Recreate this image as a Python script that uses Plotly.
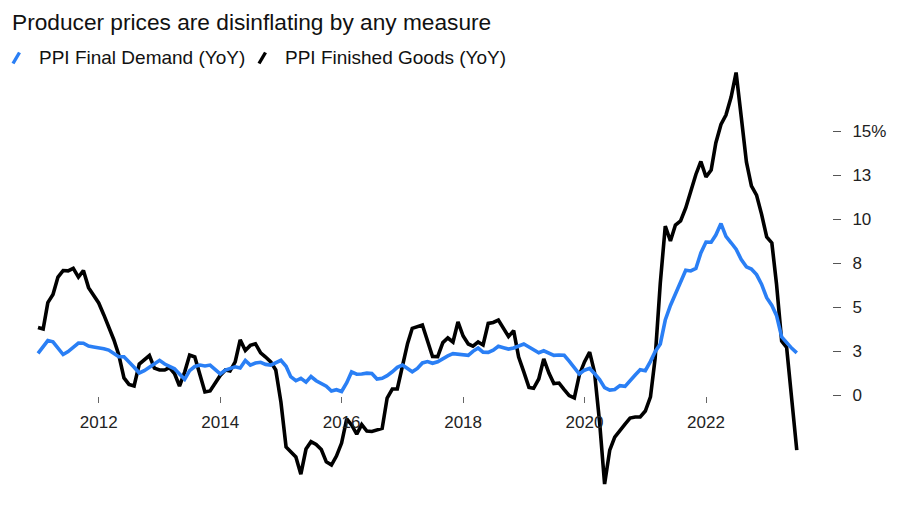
import pandas as pd
import plotly.graph_objects as go

# ---- data (monthly, Jan 2011 .. Jul 2023), YoY %
start_month = "2011-01-01"
n_months = 151

finished_goods = [
    3.84, 3.75, 5.25, 5.71, 6.70, 7.07, 7.05, 7.20, 6.70, 7.07,
    6.10, 5.68, 5.23, 4.55, 3.85, 3.14, 2.27, 0.97, 0.60, 0.51,
    1.76, 1.99, 2.24, 1.53, 1.42, 1.42, 1.56, 1.22, 0.51, 1.30,
    2.27, 2.16, 1.19, 0.17, 0.23, 0.63, 1.11, 1.42, 1.36, 1.88,
    3.13, 2.53, 2.82, 2.91, 2.39, 2.16, 1.88, 1.42, -0.40, -2.95,
    -3.20, -3.52, -4.50, -3.07, -2.65, -2.81, -3.10, -3.80, -3.98, -3.47,
    -2.73, -1.36, -1.70, -2.22, -1.68, -2.05, -2.07, -1.99, -1.90, -0.17,
    0.34, 0.34, 1.59, 2.93, 3.79, 3.86, 3.98, 3.07, 2.19, 2.18,
    2.98, 3.24, 3.01, 4.15, 3.35, 2.90, 2.78, 3.01, 2.84, 4.07,
    4.12, 4.26, 3.81, 3.32, 3.66, 2.16, 1.31, 0.43, 0.38, 0.91,
    2.05, 1.25, 0.65, 0.68, 0.31, -0.03, -0.17, 1.14, 1.88, 2.44,
    1.31, -1.55, -5.06, -3.13, -2.39, -1.99, -1.65, -1.31, -1.25, -1.25,
    -0.91, -0.11, 2.09, 6.36, 9.60, 8.75, 9.66, 9.89, 10.63, 11.56,
    12.53, 13.27, 12.39, 12.78, 14.32, 15.37, 15.91, 16.93, 18.32, 15.80,
    13.24, 11.88, 11.36, 10.28, 8.98, 8.64, 6.31, 3.07, 2.70, -0.28,
    -3.13,
]

final_demand = [
    2.37, 2.73, 3.09, 3.02, 2.67, 2.30, 2.47, 2.69, 2.95, 2.94,
    2.78, 2.73, 2.70, 2.63, 2.55, 2.33, 2.17, 2.17, 1.90, 1.58,
    1.25, 1.38, 1.58, 1.78, 1.97, 1.76, 1.61, 1.49, 1.19, 0.89,
    1.38, 1.62, 1.70, 1.65, 1.70, 1.44, 1.20, 1.42, 1.53, 1.60,
    1.53, 1.96, 1.70, 1.82, 1.86, 1.74, 1.70, 1.85, 1.97, 1.63,
    1.04, 0.81, 0.95, 0.73, 1.05, 0.81, 0.65, 0.50, 0.23, 0.30,
    0.20, 0.70, 1.31, 1.18, 1.19, 1.24, 1.22, 0.91, 0.95, 1.10,
    1.32, 1.57, 1.70, 1.52, 1.32, 1.51, 1.82, 1.90, 1.80, 1.89,
    2.07, 2.22, 2.35, 2.33, 2.27, 2.25, 2.48, 2.67, 2.43, 2.42,
    2.55, 2.77, 2.69, 2.61, 2.67, 2.77, 2.90, 2.73, 2.55, 2.40,
    2.51, 2.38, 2.25, 2.27, 2.26, 1.93, 1.59, 1.19, 1.41, 1.51,
    1.22, 0.88, 0.42, 0.28, 0.31, 0.53, 0.49, 0.85, 1.14, 1.44,
    1.38, 1.91, 2.46, 2.90, 4.26, 5.09, 5.76, 6.41, 7.09, 7.05,
    7.19, 8.07, 8.69, 8.68, 9.09, 9.74, 9.01, 8.65, 8.28, 7.70,
    7.28, 7.16, 6.84, 6.30, 5.53, 5.09, 4.52, 3.30, 2.95, 2.65,
    2.39,
]

x_tickvals = ["2012-01-01", "2014-01-01", "2016-01-01", "2018-01-01",
              "2020-01-01", "2022-01-01"]
x_ticktext = ["2012", "2014", "2016", "2018", "2020", "2022"]
y_tickvals = [0, 2.5, 5, 7.5, 10, 12.5, 15]
y_ticktext = ["0", "3", "5", "8", "10", "13", "15%"]

series_names = ["PPI Final Demand (YoY)", "PPI Finished Goods (YoY)"]
title_text = "Producer prices are disinflating by any measure"

dates = pd.date_range(start_month, periods=n_months, freq="MS")

BLUE = "#2a7ff5"
BLACK = "#000000"

# page body has an 8px margin: convert screenshot px -> figure px
OFF = 8
W, H = 900, 510
PLOT_L, PLOT_R, PLOT_T, PLOT_B = 30, 832, 60, 500   # screenshot coords
ML = PLOT_L - OFF
MR = W - (PLOT_R - OFF)
MT = PLOT_T - OFF
MB = H - (PLOT_B - OFF)
PW = PLOT_R - PLOT_L
PH = PLOT_B - PLOT_T

fig = go.Figure()
fig.add_trace(go.Scatter(x=dates, y=finished_goods, mode="lines",
                         line=dict(color=BLACK, width=3.6), name=series_names[1],
                         showlegend=False))
fig.add_trace(go.Scatter(x=dates, y=final_demand, mode="lines",
                         line=dict(color=BLUE, width=3.6), name=series_names[0],
                         showlegend=False))

# x range so that Jan-2012 tick sits ~98.7px and ticks spaced ~60.7px/yr
ref = pd.Timestamp("2012-01-01")
ppd = 0.16625
x0 = ref + pd.Timedelta(days=(PLOT_L - 98.7) / ppd)
x1 = ref + pd.Timedelta(days=(PLOT_R - 98.7) / ppd)

# y range: 0 at 395px, 17.6 px per unit (screenshot coords)
y_top = (395 - PLOT_T) / 17.6
y_bot = (395 - PLOT_B) / 17.6


def px2x(p):
    return (p - PLOT_L) / PW


def py2y(p):
    return (PLOT_B - p) / PH


fig.update_layout(
    width=W, height=H,
    margin=dict(l=ML, r=MR, t=MT, b=MB),
    paper_bgcolor="white", plot_bgcolor="white",
    font=dict(family="Liberation Sans, Arial, sans-serif", color="#222222"),
    title=dict(text=title_text, x=(12 - OFF) / W, xanchor="left", xref="container",
               y=1 - (22 - OFF) / H, yanchor="middle", yref="container",
               font=dict(size=22.7, color="#111111")),
    xaxis=dict(
        type="date", range=[x0, x1],
        anchor="free", position=py2y(396),
        showgrid=False, zeroline=False, showline=False,
        tickvals=x_tickvals, ticktext=x_ticktext,
        ticks="outside", ticklen=6, tickwidth=1, tickcolor="#666666",
        ticklabelstandoff=5,
        tickfont=dict(size=17, color="#222222"),
    ),
    yaxis=dict(
        side="right", range=[y_bot, y_top],
        showgrid=False, zeroline=False, showline=False,
        tickvals=y_tickvals, ticktext=y_ticktext,
        ticks="outside", ticklen=8, tickwidth=1, tickcolor="#555555",
        ticklabelstandoff=8,
        tickfont=dict(size=17, color="#222222"),
    ),
)

# custom legend (slash glyphs + text)
legend_items = [(BLUE, series_names[0], 13, 37), (BLACK, series_names[1], 259, 283)]
for color, label, sx, tx in legend_items:
    fig.add_shape(type="line", xref="paper", yref="paper",
                  x0=px2x(sx), y0=py2y(63.5), x1=px2x(sx + 6.5), y1=py2y(52.5),
                  line=dict(color=color, width=3.4))
    fig.add_annotation(xref="paper", yref="paper", x=px2x(tx), y=py2y(58),
                       xanchor="left", yanchor="middle", showarrow=False,
                       text=label, font=dict(size=19, color="#111111"))

fig.write_html("out.html")
